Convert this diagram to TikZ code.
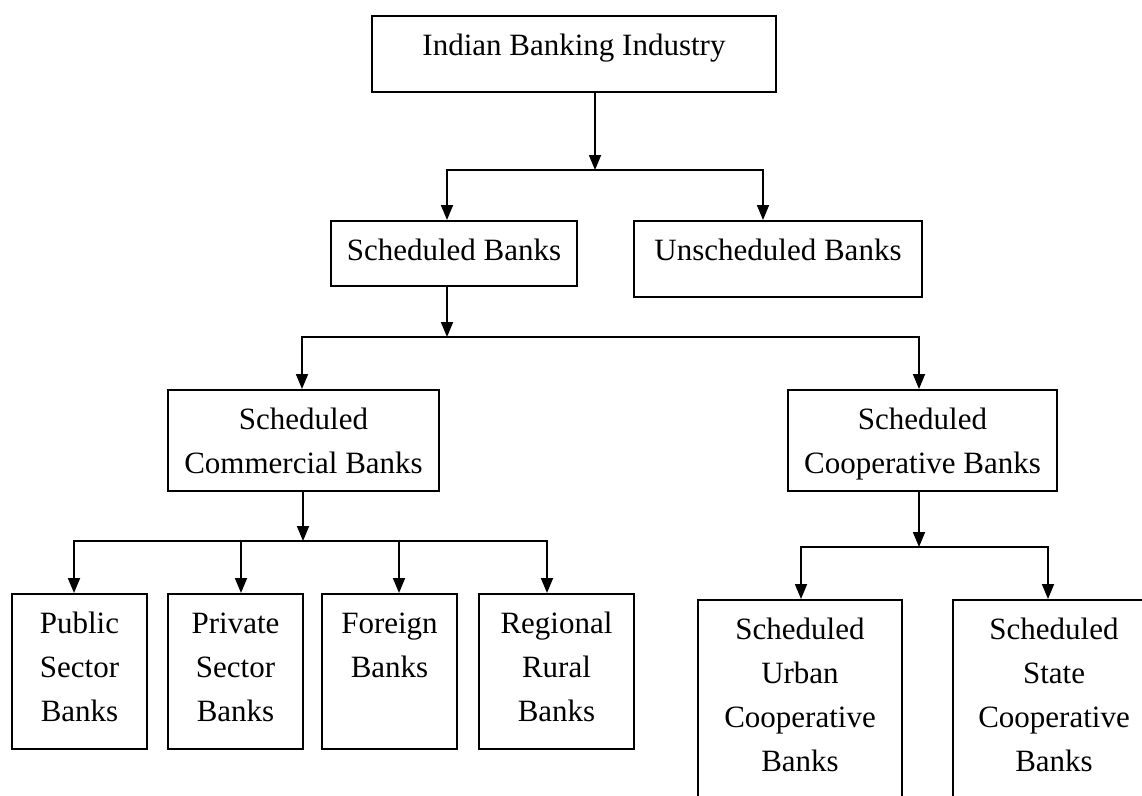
\documentclass[tikz,border=0pt]{standalone}
\usepackage{fontspec}
\setmainfont{Liberation Serif}
\usetikzlibrary{arrows.meta}
\tikzset{
  >={Triangle[length=15pt,width=12pt]},
  bx/.style={draw,anchor=north,inner sep=0pt,font=\fontsize{31}{44}\selectfont},
  every picture/.style={line width=1.8pt},
}
% text held at the top of a box of fixed height
\newcommand{\toptext}[2]{\vbox to #1pt{\vskip 9pt\hbox{\begin{tabular}[t]{@{}c@{}}#2\end{tabular}}\vss}}

\begin{document}
\begin{tikzpicture}[x=1pt,y=-1pt]
\useasboundingbox (0,0) rectangle (1142,795);
\clip (0,0) rectangle (1142,795);
\foreach \n/\x/\y/\w/\h/\t in {ibi/574/15/404/76/{Indian Banking Industry},
  sb/454/220/246/65/{Scheduled Banks},ub/778/220/288/76/{Unscheduled Banks},
  scb/303.5/389/271/101/{Scheduled\\Commercial Banks},scob/922.5/389/269/101/{Scheduled\\Cooperative Banks},
  psb/79.5/593/135/155/{Public\\Sector\\Banks},pvb/235.5/593/135/155/{Private\\Sector\\Banks},
  fb/389.5/593/135/155/{Foreign\\Banks},rrb/556.5/593/155/155/{Regional\\Rural\\Banks},
  urb/800/599/204/220/{Scheduled\\Urban\\Cooperative\\Banks},stb/1054/599/202/220/{Scheduled\\State\\Cooperative\\Banks}}{
  \node[bx,minimum width=\w pt] (\n) at (\x,\y){\toptext{\h}{\t}};}
\foreach \n/\x/\y in {a0/595/170,a1/447/170,a2/763/170,b0/447/337,b1/302/337,b2/919/337,
  c0/303/541,c1/74/541,c2/241/541,c3/399/541,c4/547/541,d0/919/547,d1/801/547,d2/1048/547}{
  \coordinate (\n) at (\x,\y);}
\draw[->] (ibi.south -| a0) -- (a0);
\draw[<->] (sb.north -| a1) -- (a1) -- (a2) -- (ub.north -| a2);
\draw[->] (sb.south -| b0) -- (b0);
\draw[<->] (scb.north -| b1) -- (b1) -- (b2) -- (scob.north -| b2);
\draw[->] (scb.south -| c0) -- (c0);
\draw[<->] (psb.north -| c1) -- (c1) -- (c4) -- (rrb.north -| c4);
\draw[->] (c2) -- (pvb.north -| c2); \draw[->] (c3) -- (fb.north -| c3);
\draw[->] (scob.south -| d0) -- (d0);
\draw[<->] (urb.north -| d1) -- (d1) -- (d2) -- (stb.north -| d2);
\end{tikzpicture}
\end{document}
